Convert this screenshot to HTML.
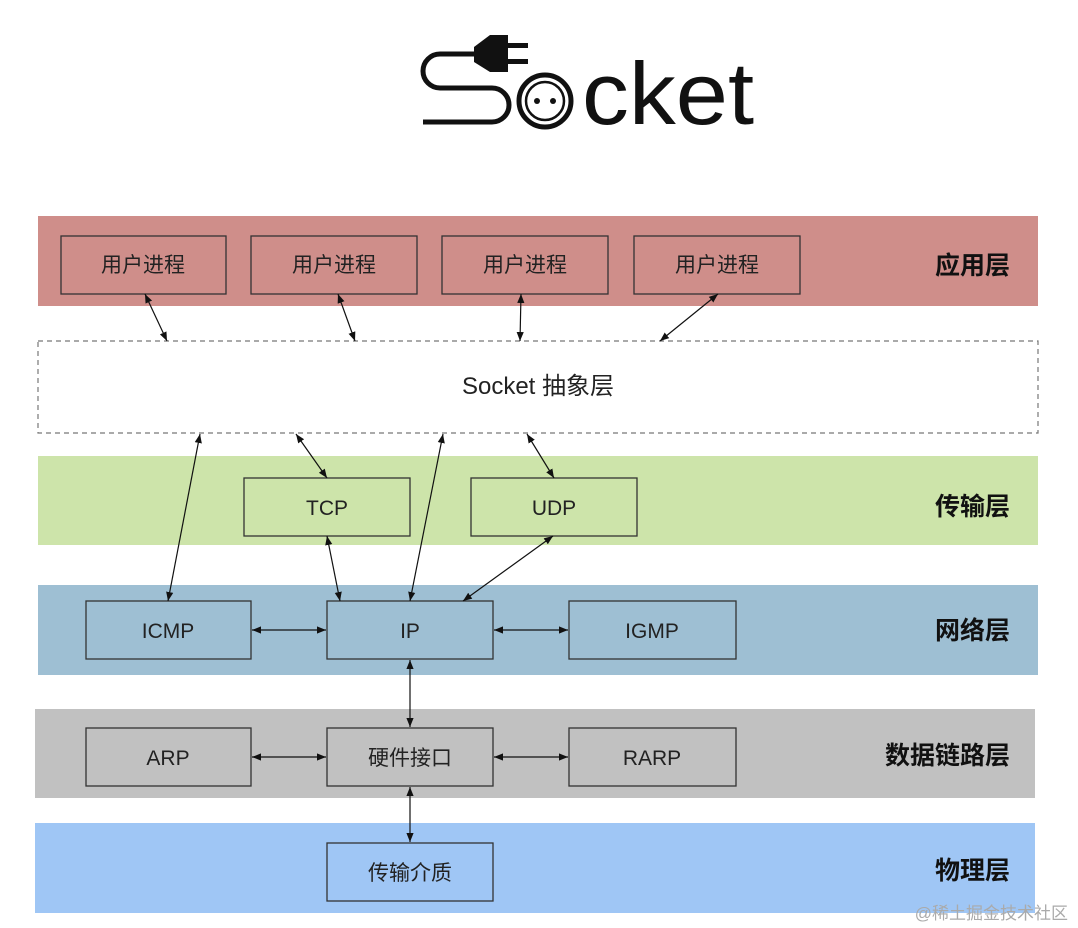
<!DOCTYPE html>
<html><head><meta charset="utf-8"><style>
html,body{margin:0;padding:0;background:#fff;}
svg{display:block;}
text{font-family:"Liberation Sans","Noto Sans CJK SC",sans-serif;}
</style></head><body>
<svg width="1078" height="928" viewBox="0 0 1078 928" xmlns="http://www.w3.org/2000/svg">
<defs>
<marker id="a" viewBox="0 0 10 10" refX="10" refY="5" markerWidth="9" markerHeight="9" orient="auto-start-reverse" markerUnits="userSpaceOnUse"><path d="M0,1 L10,5 L0,9 z" fill="#111"/></marker>
</defs>
<!-- logo -->
<g fill="none" stroke="#111" stroke-width="5">
<path d="M423,122 H492 A17,17 0 0 0 492,88 H440 A17,17 0 0 1 440,54 H478"/>
<circle cx="545" cy="101" r="26"/>
<circle cx="545" cy="101" r="19" stroke-width="2.5"/>
</g>
<path d="M474,47 L490,35 H508 V72 H490 L474,62 z" fill="#111"/>
<rect x="506" y="43" width="22" height="5" fill="#111"/>
<rect x="506" y="59" width="22" height="5" fill="#111"/>
<circle cx="537" cy="101" r="3" fill="#111"/><circle cx="553" cy="101" r="3" fill="#111"/>
<text x="582" y="124" font-size="88" fill="#111" textLength="172" lengthAdjust="spacingAndGlyphs">cket</text>

<!-- bands -->
<rect x="38" y="216" width="1000" height="90" fill="#cf8e8a"/>
<rect x="38" y="341" width="1000" height="92" fill="#fff" stroke="#777" stroke-width="1.2" stroke-dasharray="5,4"/>
<rect x="38" y="456" width="1000" height="89" fill="#cde4aa"/>
<rect x="38" y="585" width="1000" height="90" fill="#9ebfd3"/>
<rect x="35" y="709" width="1000" height="89" fill="#c1c1c1"/>
<rect x="35" y="823" width="1000" height="90" fill="#9fc6f5"/>

<g stroke="#333" stroke-width="1.3">
<rect x="61" y="236" width="165" height="58" fill="#cf8e8a"/>
<rect x="251" y="236" width="166" height="58" fill="#cf8e8a"/>
<rect x="442" y="236" width="166" height="58" fill="#cf8e8a"/>
<rect x="634" y="236" width="166" height="58" fill="#cf8e8a"/>
<rect x="244" y="478" width="166" height="58" fill="#cde4aa"/>
<rect x="471" y="478" width="166" height="58" fill="#cde4aa"/>
<rect x="86" y="601" width="165" height="58" fill="#9ebfd3"/>
<rect x="327" y="601" width="166" height="58" fill="#9ebfd3"/>
<rect x="569" y="601" width="167" height="58" fill="#9ebfd3"/>
<rect x="86" y="728" width="165" height="58" fill="#c1c1c1"/>
<rect x="327" y="728" width="166" height="58" fill="#c1c1c1"/>
<rect x="569" y="728" width="167" height="58" fill="#c1c1c1"/>
<rect x="327" y="843" width="166" height="58" fill="#9fc6f5"/>
</g>

<g font-size="21" fill="#222" text-anchor="middle">
<text x="143" y="272">用户进程</text>
<text x="334" y="272">用户进程</text>
<text x="525" y="272">用户进程</text>
<text x="717" y="272">用户进程</text>
<text x="538" y="394" font-size="24">Socket 抽象层</text>
<text x="327" y="515">TCP</text>
<text x="554" y="515">UDP</text>
<text x="168" y="638">ICMP</text>
<text x="410" y="638">IP</text>
<text x="652" y="638">IGMP</text>
<text x="168" y="765">ARP</text>
<text x="410" y="765">硬件接口</text>
<text x="652" y="765">RARP</text>
<text x="410" y="880">传输介质</text>
</g>
<g font-size="25" font-weight="bold" fill="#111" text-anchor="end">
<text x="1010" y="274">应用层</text>
<text x="1010" y="515">传输层</text>
<text x="1010" y="639">网络层</text>
<text x="1010" y="764">数据链路层</text>
<text x="1010" y="879">物理层</text>
</g>
<text x="1068" y="919" font-size="17" fill="#aaa" text-anchor="end">@稀土掘金技术社区</text>

<g stroke="#111" stroke-width="1.2" marker-start="url(#a)" marker-end="url(#a)">
<line x1="145" y1="294" x2="167" y2="341"/>
<line x1="338" y1="294" x2="355" y2="341"/>
<line x1="521" y1="294" x2="520" y2="341"/>
<line x1="718" y1="294" x2="660" y2="341"/>
<line x1="200" y1="434" x2="168" y2="601"/>
<line x1="296" y1="434" x2="327" y2="478"/>
<line x1="443" y1="434" x2="410" y2="601"/>
<line x1="527" y1="434" x2="554" y2="478"/>
<line x1="327" y1="536" x2="340" y2="601"/>
<line x1="553" y1="536" x2="463" y2="601"/>
<line x1="252" y1="630" x2="326" y2="630"/>
<line x1="494" y1="630" x2="568" y2="630"/>
<line x1="410" y1="660" x2="410" y2="727"/>
<line x1="252" y1="757" x2="326" y2="757"/>
<line x1="494" y1="757" x2="568" y2="757"/>
<line x1="410" y1="787" x2="410" y2="842"/>
</g>
</svg>
</body></html>
